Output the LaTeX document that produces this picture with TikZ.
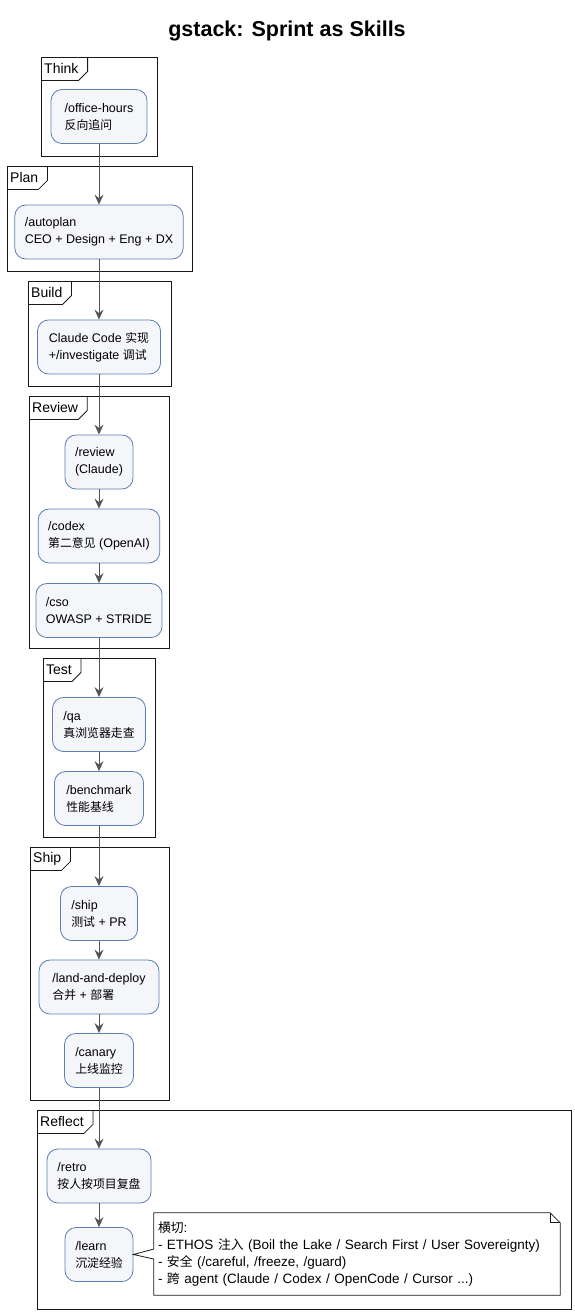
\documentclass[tikz,border=0pt]{standalone}
\usepackage{fontspec}
\usepackage{xcolor}
\usetikzlibrary{arrows.meta}
\setmainfont{Liberation Sans}
\newfontfamily\cjk[Scale=0.95]{Noto Sans CJK SC}
\newcommand\zh[1]{{\cjk #1}}
\definecolor{skillfill}{HTML}{F5F6FA}
\definecolor{skillline}{HTML}{5B7DB5}
\definecolor{flowgray}{HTML}{555555}
\definecolor{inkline}{HTML}{181818}

\begin{document}
\begin{tikzpicture}[x=1pt, y=-1pt,
    skill/.style={draw=skillline, fill=skillfill, rounded corners=11pt, line width=0.8pt,
        align=left, minimum height=54pt, inner xsep=10pt, font=\fontsize{12.5}{17}\selectfont},
    flow/.style={draw=flowgray, line width=1pt, -{Stealth[length=10pt, width=9pt, inset=3.5pt]}},
    phase/.style={draw=inkline, line width=0.8pt},
    phasetab/.style={anchor=north west, inner xsep=3pt, inner ysep=0pt, minimum height=23pt,
        font=\fontsize{14}{16}\selectfont},
    crossnote/.style={align=left, text width=398pt, inner xsep=4pt, minimum height=82pt,
        font=\fontsize{13.5}{17.3}\selectfont}]
    \useasboundingbox (0,0) rectangle (574,1312);

    % Title
    \node[font=\bfseries\fontsize{21.5}{26}\selectfont] (title) at (287,31) {gstack: Sprint as Skills};

    % Phase frames
    \draw[phase] (41,57) rectangle (157,156);
    \node[phasetab] (thinkTab) at (41,57) {Think};
    \draw[phase] (thinkTab.south west) -- ([xshift=-3pt]thinkTab.south east) -- ([xshift=6pt,yshift=9pt]thinkTab.south east) -- ([xshift=6pt]thinkTab.north east);

    \draw[phase] (7,166) rectangle (192,271);
    \node[phasetab] (planTab) at (7,166) {Plan};
    \draw[phase] (planTab.south west) -- ([xshift=-3pt]planTab.south east) -- ([xshift=6pt,yshift=9pt]planTab.south east) -- ([xshift=6pt]planTab.north east);

    \draw[phase] (28,281) rectangle (171,386);
    \node[phasetab] (buildTab) at (28,281) {Build};
    \draw[phase] (buildTab.south west) -- ([xshift=-3pt]buildTab.south east) -- ([xshift=6pt,yshift=9pt]buildTab.south east) -- ([xshift=6pt]buildTab.north east);

    \draw[phase] (29,396) rectangle (169,648);
    \node[phasetab] (reviewTab) at (29,396) {Review};
    \draw[phase] (reviewTab.south west) -- ([xshift=-3pt]reviewTab.south east) -- ([xshift=6pt,yshift=9pt]reviewTab.south east) -- ([xshift=6pt]reviewTab.north east);

    \draw[phase] (43,658) rectangle (155,837);
    \node[phasetab] (testTab) at (43,658) {Test};
    \draw[phase] (testTab.south west) -- ([xshift=-3pt]testTab.south east) -- ([xshift=6pt,yshift=9pt]testTab.south east) -- ([xshift=6pt]testTab.north east);

    \draw[phase] (30,847) rectangle (169,1100);
    \node[phasetab] (shipTab) at (30,847) {Ship};
    \draw[phase] (shipTab.south west) -- ([xshift=-3pt]shipTab.south east) -- ([xshift=6pt,yshift=9pt]shipTab.south east) -- ([xshift=6pt]shipTab.north east);

    \draw[phase] (37,1110) rectangle (571,1309);
    \node[phasetab] (reflectTab) at (37,1110) {Reflect};
    \draw[phase] (reflectTab.south west) -- ([xshift=-3pt]reflectTab.south east) -- ([xshift=6pt,yshift=9pt]reflectTab.south east) -- ([xshift=6pt]reflectTab.north east);

    % Skill nodes
    \node[skill, minimum width=96pt] (office) at (99,116.5) {/office-hours\\\zh{反向追问}};
    \node[skill, minimum width=166pt] (autoplan) at (99,232) {/autoplan\\CEO + Design + Eng + DX};
    \node[skill, minimum width=123pt] (build) at (99,347) {Claude Code \zh{实现}\\+/investigate \zh{调试}};
    \node[skill, minimum width=67pt] (review) at (99,462) {/review\\(Claude)};
    \node[skill, minimum width=120pt] (codex) at (99,536) {/codex\\\zh{第二意见} (OpenAI)};
    \node[skill, minimum width=120pt] (cso) at (99,610.5) {/cso\\OWASP + STRIDE};
    \node[skill, minimum width=93pt] (qa) at (99,724.5) {/qa\\\zh{真浏览器走查}};
    \node[skill, minimum width=89pt] (bench) at (99,798.5) {/benchmark\\\zh{性能基线}};
    \node[skill, minimum width=77pt] (ship) at (99,913.5) {/ship\\\zh{测试} + PR};
    \node[skill, minimum width=120pt] (land) at (99,987) {/land-and-deploy\\\zh{合并} + \zh{部署}};
    \node[skill, minimum width=69pt] (canary) at (99,1060.5) {/canary\\\zh{上线监控}};
    \node[skill, minimum width=104pt] (retro) at (99,1176) {/retro\\\zh{按人按项目复盘}};
    \node[skill, minimum width=68pt] (learn) at (99,1254.5) {/learn\\\zh{沉淀经验}};

    % Flow
    \draw[flow] (office) -- (autoplan);
    \draw[flow] (autoplan) -- (build);
    \draw[flow] (build) -- (review);
    \draw[flow] (review) -- (codex);
    \draw[flow] (codex) -- (cso);
    \draw[flow] (cso) -- (qa);
    \draw[flow] (qa) -- (bench);
    \draw[flow] (bench) -- (ship);
    \draw[flow] (ship) -- (land);
    \draw[flow] (land) -- (canary);
    \draw[flow] (canary) -- (retro);
    \draw[flow] (retro) -- (learn);

    % Cross-cutting note
    \node[crossnote] (cross) at (357,1254) {\zh{横切}:\\- ETHOS \zh{注入} (Boil the Lake / Search First / User Sovereignty)\\- \zh{安全} (/careful, /freeze, /guard)\\- \zh{跨} agent (Claude / Codex / OpenCode / Cursor ...)};
    \draw[phase] ([yshift=5pt]cross.west) -- (cross.north west) -- ([xshift=-10pt]cross.north east) -- ([yshift=-10pt]cross.north east) -- (cross.south east) -- (cross.south west) -- ([yshift=-5pt]cross.west) -- (learn.east) -- cycle;
    \draw[phase] ([xshift=-10pt]cross.north east) -- ([xshift=-10pt,yshift=-10pt]cross.north east) -- ([yshift=-10pt]cross.north east);
\end{tikzpicture}
\end{document}
